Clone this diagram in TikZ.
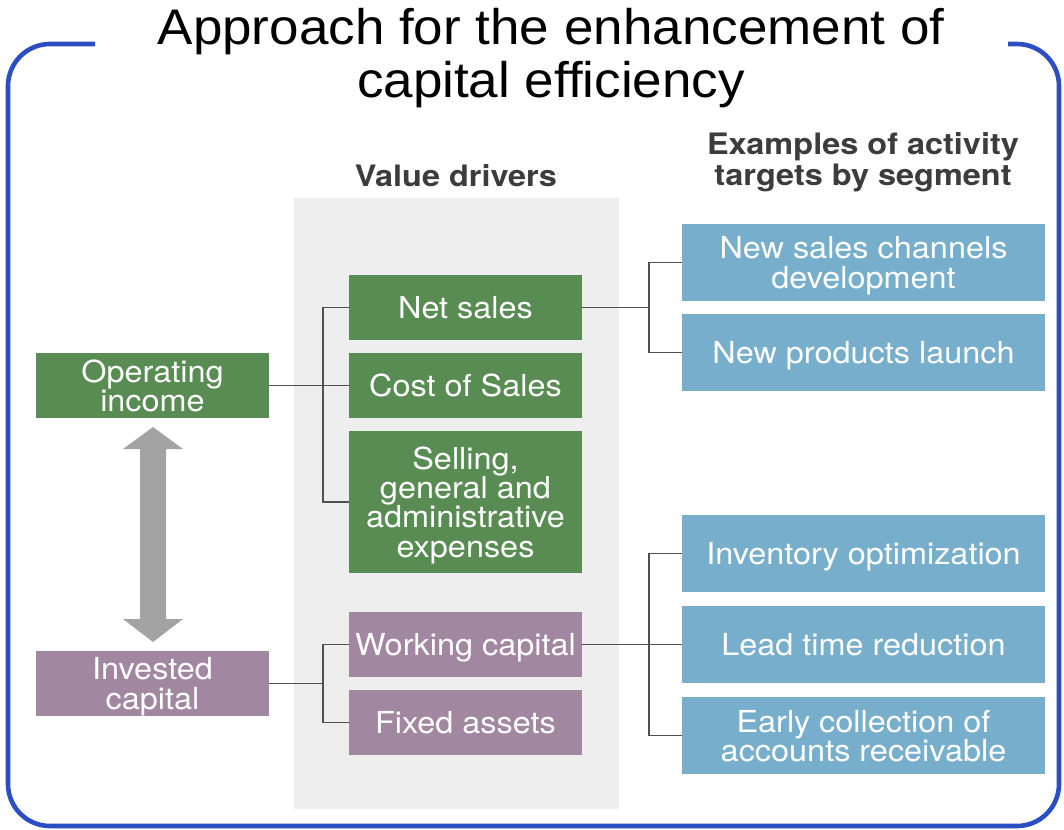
\documentclass[tikz,border=0pt]{standalone}
\usepackage{fontspec}
\newfontfamily\titlefont[FakeStretch=1.06]{Liberation Sans}
\newfontfamily\bodyfont[FakeStretch=1.07]{TeX Gyre Heros}
\newfontfamily\hdrfont[FakeStretch=1.1]{TeX Gyre Heros}
\definecolor{cgreen}{HTML}{588C52}
\definecolor{cpurple}{HTML}{A187A0}
\definecolor{cblue}{HTML}{76AECC}
\definecolor{cpanel}{HTML}{EEEEEE}
\definecolor{carrow}{HTML}{A3A3A3}
\definecolor{cline}{HTML}{505050}
\definecolor{chdr}{HTML}{3C3C3C}
\definecolor{cframe}{HTML}{2B4FC3}
\tikzset{
  box/.style={inner sep=0pt, text=white, align=center, text depth=0pt,
    font=\bodyfont\fontsize{30.3}{29.2}\selectfont, minimum height=65pt},
  gbox/.style={box, fill=cgreen, minimum width=233pt},
  pbox/.style={box, fill=cpurple, minimum width=233pt},
  bbox/.style={box, fill=cblue, minimum width=363pt, minimum height=77pt},
  conn/.style={draw=cline, line width=1.4pt},
  hdr/.style={font=\hdrfont\bfseries\fontsize{29.5}{30}\selectfont, text=chdr, anchor=base, inner sep=0pt},
  ttl/.style={font=\titlefont\fontsize{50}{53}\selectfont, text=black, anchor=base, inner sep=0pt}
}
\begin{document}
\begin{tikzpicture}[x=1pt,y=-1pt]
\useasboundingbox (0,0) rectangle (1064,829);
\fill[white] (0,0) rectangle (1064,829);
% frame
\draw[cframe, line width=4.6pt, rounded corners=42pt] (95,44) -- (8,44) -- (8,826) -- (1059,826) -- (1059,44) -- (1008,44);
% title
\node[ttl] (t1) at (551,45) {Approach for the enhancement of};
\node[ttl] (t2) at (551,98) {capital efficiency};
% panel
\fill[cpanel] (294,198) rectangle (619,809);
% headers
\node[hdr] (hv) at (456,186) {Value drivers};
\node[hdr] (he1) at (863,155) {Examples of activity};
\node[hdr] (he2) at (863,185) {targets by segment};
% left column
\node[gbox] (oi) at (152.5,385.5) {Operating\\income};
\node[pbox] (ic) at (152.5,683.5) {Invested\\capital};
% middle column
\node[gbox] (ns) at (465.5,307.5) {Net sales};
\node[gbox] (cs) at (465.5,385.5) {Cost of Sales};
\node[gbox, minimum height=142pt] (sg) at (465.5,502) {Selling,\\general and\\administrative\\expenses};
\node[pbox] (wc) at (465.5,644.5) {Working capital};
\node[pbox] (fa) at (465.5,722.5) {Fixed assets};
% right column
\node[bbox] (nsc) at (863.5,262.5) {New sales channels\\development};
\node[bbox] (npl) at (863.5,352.5) {New products launch};
\node[bbox] (inv) at (863.5,553.5) {Inventory optimization};
\node[bbox] (lead) at (863.5,644.5) {Lead time reduction};
\node[bbox] (early) at (863.5,735.5) {Early collection of\\accounts receivable};
% double arrow
\fill[carrow] (153,427) -- (183,449) -- (166,449) -- (166,619) -- (183,619) -- (153,642)
  -- (123,619) -- (140,619) -- (140,449) -- (123,449) -- cycle;
% connectors
\coordinate (busL) at (323,0);
\coordinate (busR) at (649,0);
\draw[conn] (ns.west) -- (ns.west -| busL) |- (sg.west);
\draw[conn] (oi.east) -- (cs.west);
\draw[conn] (wc.west) -- (wc.west -| busL) |- (fa.west);
\draw[conn] (ic.east) -- (ic.east -| busL);
\draw[conn] (nsc.west) -- (nsc.west -| busR) |- (npl.west);
\draw[conn] (ns.east) -- (ns.east -| busR);
\draw[conn] (inv.west) -- (inv.west -| busR) |- (early.west);
\draw[conn] (wc.east) -- (lead.west);
\end{tikzpicture}
\end{document}
